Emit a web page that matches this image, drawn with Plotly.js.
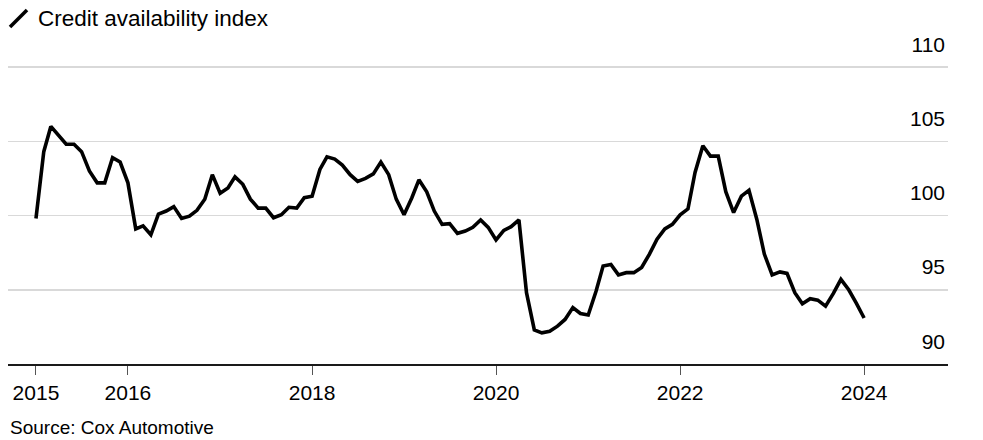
<!DOCTYPE html>
<html>
<head>
<meta charset="utf-8">
<script src="https://cdn.plot.ly/plotly-3.0.1.min.js"></script>
<style>
  html, body { margin: 0; padding: 0; background: #fff; }
  #chart { width: 983px; height: 440px; }
</style>
</head>
<body>
<div id="chart"></div>
<script>
// Monthly series, Jan 2015 .. Jan 2024
const startYear = 2015;
const startMonth = 1;
const creditIndex = [
  99.8, 104.3, 106.0, 105.4, 104.8, 104.8, 104.3, 103.0, 102.2, 102.2, 103.9, 103.6,
  102.2, 99.1, 99.3, 98.7, 100.1, 100.3, 100.6, 99.8, 99.95, 100.35, 101.1, 102.75,
  101.5, 101.85, 102.6, 102.1, 101.1, 100.5, 100.5, 99.85, 100.05, 100.55, 100.5, 101.2,
  101.3, 103.1, 103.95, 103.8, 103.4, 102.75, 102.3, 102.5, 102.8, 103.6, 102.75, 101.1,
  100.05, 101.2, 102.4, 101.6, 100.3, 99.4, 99.45, 98.8, 98.95, 99.2, 99.7, 99.2,
  98.35, 99.0, 99.25, 99.7, 94.8, 92.3, 92.1, 92.2, 92.55, 93.0, 93.8, 93.4,
  93.3, 94.9, 96.6, 96.7, 96.0, 96.15, 96.15, 96.5, 97.4, 98.4, 99.1, 99.4,
  100.05, 100.45, 102.9, 104.7, 104.0, 104.0, 101.6, 100.2, 101.3, 101.7, 99.75, 97.4,
  96.0, 96.2, 96.1, 94.8, 94.05, 94.4, 94.3, 93.9, 94.75, 95.7, 95.0, 94.1,
  93.1
];
const xTickVals = ['2015-01-01', '2016-01-01', '2018-01-01', '2020-01-01', '2022-01-01', '2024-01-01'];
const xTickText = ['2015', '2016', '2018', '2020', '2022', '2024'];
const yTickVals = [90, 95, 100, 105, 110];
const yTickText = ['90', '95', '100', '105', '110'];
const titleText = 'Credit availability index';
const sourceText = 'Source: Cox Automotive';

const months = creditIndex.map((_, i) => {
  const m0 = (startMonth - 1) + i;
  const y = startYear + Math.floor(m0 / 12);
  const m = (m0 % 12) + 1;
  return y + '-' + String(m).padStart(2, '0') + '-01';
});

const FONT = 'Liberation Sans, Arial, Helvetica, sans-serif';

// plot area: top at TOP px, bottom (axis) at 364px; 110 gridline at 67px
const TOP = 18, BOTTOM = 364, H = BOTTOM - TOP;
const py = p => (BOTTOM - p) / H;

const trace = {
  x: months,
  y: creditIndex,
  type: 'scatter',
  mode: 'lines',
  line: { color: '#000000', width: 3.6, shape: 'linear' },
  hoverinfo: 'x+y',
  showlegend: false
};

const layout = {
  width: 983,
  height: 440,
  margin: { l: 8, r: 35, t: TOP, b: 440 - BOTTOM, pad: 0 },
  paper_bgcolor: '#ffffff',
  plot_bgcolor: '#ffffff',
  font: { family: FONT, color: '#000000', size: 21 },
  title: {
    text: titleText,
    font: { family: FONT, size: 22.5, color: '#000000' },
    xref: 'container', yref: 'container',
    x: 38 / 983, xanchor: 'left',
    y: 1 - 18 / 440, yanchor: 'middle'
  },
  xaxis: {
    type: 'date',
    range: ['2014-09-12', '2024-11-29'],
    tickvals: xTickVals,
    ticktext: xTickText,
    ticks: 'outside',
    ticklen: 9,
    tickwidth: 1,
    tickcolor: '#555555',
    showline: true,
    linecolor: '#1a1a1a',
    linewidth: 1.5,
    showgrid: false,
    zeroline: false,
    tickfont: { family: FONT, size: 21, color: '#000000' },
    fixedrange: true
  },
  yaxis: {
    range: [90, 90 + 20 * H / (BOTTOM - 67)],
    side: 'right',
    tickvals: yTickVals,
    ticktext: yTickText,
    ticklabelposition: 'inside top',
    ticklabelshift: -8,
    ticks: '',
    showline: false,
    showgrid: true,
    gridcolor: '#d9d9d9',
    gridwidth: 1.5,
    zeroline: false,
    tickfont: { family: FONT, size: 21, color: '#000000' },
    fixedrange: true
  },
  shapes: [
    {
      type: 'line', xref: 'paper', yref: 'paper',
      x0: (10 - 8) / 940, y0: py(27),
      x1: (27 - 8) / 940, y1: py(10),
      line: { color: '#000000', width: 3.6 }
    }
  ],
  annotations: [
    {
      text: sourceText,
      xref: 'paper', yref: 'paper',
      x: 0, xanchor: 'left',
      y: py(428), yanchor: 'middle',
      showarrow: false,
      font: { family: FONT, size: 19, color: '#000000' }
    }
  ]
};

Plotly.newPlot('chart', [trace], layout, { displayModeBar: false, staticPlot: true });
</script>
</body>
</html>
